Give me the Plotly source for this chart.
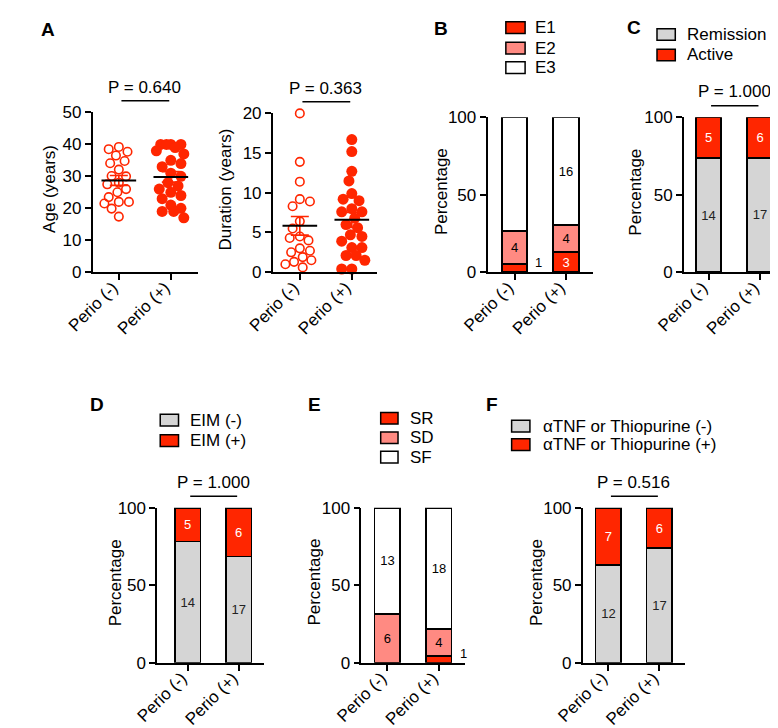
import numpy as np
import plotly.graph_objects as go

W, H = 778, 728
FONT = "Arial, Liberation Sans, sans-serif"
RED = "#ff2600"
PINK = "#ff8a82"
GREY = "#d5d5d5"
WHITE = "#ffffff"

groups = ["Perio (-)", "Perio (+)"]

# ---- Panel A data ----
age_neg = [39.2, 38.5, 37.7, 36.5, 34.8, 34.1, 32.1, 30.1, 30.0, 28.0, 27.5,
           26.0, 25.0, 23.5, 22.0, 22.0, 21.5, 19.9, 17.4]
age_pos = [40, 40, 40, 40, 39, 38, 37, 35, 34, 33, 31, 30, 28, 27, 26, 25,
           24, 23, 21, 20, 19, 19, 17]
dur_neg = [20.0, 13.9, 11.4, 9.2, 8.9, 8.3, 6.4, 5.5, 4.5, 4.3, 4.0, 3.0, 2.7,
           2.5, 1.9, 1.5, 1.3, 1.0, 0.6]
dur_pos = [16.7, 15.2, 12.7, 11.5, 9.9, 9.2, 9.0, 8.0, 7.6, 7.6, 6.8, 6.0, 5.6,
           4.7, 4.5, 3.9, 3.1, 3.1, 2.1, 2.1, 1.5, 0.4, 0.4]

# ---- Panel B ----
b_names = ["E1", "E2", "E3"]
b_pct = [[5.3, 13.0], [21.1, 17.4], [73.7, 69.6]]
b_lab = [["", "3"], ["4", "4"], ["14", "16"]]
b_out = ["1", ""]
# ---- Panel C ----
c_names = ["Remission", "Active"]
c_pct = [[73.7, 73.9], [26.3, 26.1]]
c_lab = [["14", "17"], ["5", "6"]]
# ---- Panel D ----
d_names = ["EIM (-)", "EIM (+)"]
d_pct = [[78.3, 68.7], [21.7, 31.3]]
d_lab = [["14", "17"], ["5", "6"]]
# ---- Panel E ----
e_names = ["SR", "SD", "SF"]
e_pct = [[0.0, 4.3], [31.6, 17.4], [68.4, 78.3]]
e_lab = [["", ""], ["6", "4"], ["13", "18"]]
e_out = ["", "1"]
# ---- Panel F ----
f_names = ["\u03b1TNF or Thiopurine (-)", "\u03b1TNF or Thiopurine (+)"]
f_pct = [[63.2, 73.9], [36.8, 26.1]]
f_lab = [["12", "17"], ["7", "6"]]

p_values = {"A1": "P = 0.640", "A2": "P = 0.363", "C": "P = 1.000",
            "D": "P = 1.000", "F": "P = 0.516"}

# ---- layout geometry in pixels ----
panels = {
    "A1": dict(l=58, r=167, c=(85, 139), t=98, b=262, ymax=50, dt=10, ytitle="Age (years)", tx=13),
    "A2": dict(l=245, r=353, c=(273, 327), t=99, b=262, ymax=20, dt=5, ytitle="Duration (years)", tx=196),
    "B": dict(l=468, r=578, c=(496, 549.5), t=103, b=262, ymax=100, dt=50, ytitle="Percentage", tx=421),
    "C": dict(l=672, r=777, c=(697.5, 751), t=103, b=262, ymax=100, dt=50, ytitle="Percentage", tx=622),
    "D": dict(l=125, r=236, c=(156.5, 209.5), t=504, b=663, ymax=100, dt=50, ytitle="Percentage", tx=81),
    "E": dict(l=337, r=445, c=(364, 417.5), t=504, b=663, ymax=100, dt=50, ytitle="Percentage", tx=288),
    "F": dict(l=567, r=673, c=(593.5, 646.5), t=504, b=663, ymax=100, dt=50, ytitle="Percentage", tx=519),
}

fig = go.Figure()
layout = dict(width=W, height=H, margin=dict(l=0, r=0, t=0, b=0),
              paper_bgcolor="white", plot_bgcolor="white", showlegend=False,
              font=dict(family=FONT, color="black"))
annotations = []
shapes = []

for i, (key, p) in enumerate(panels.items(), start=1):
    sp = p["c"][1] - p["c"][0]
    p["sp"] = sp
    p["xr"] = [(p["l"] - p["c"][0]) / sp, (p["r"] - p["c"][0]) / sp]
    p["xa"] = "x" if i == 1 else f"x{i}"
    p["ya"] = "y" if i == 1 else f"y{i}"
    xk = "xaxis" if i == 1 else f"xaxis{i}"
    yk = "yaxis" if i == 1 else f"yaxis{i}"
    layout[xk] = dict(domain=[p["l"] / W, p["r"] / W], range=p["xr"], anchor=p["ya"],
                      showline=True, linecolor="black", linewidth=1.8,
                      ticks="outside", ticklen=6, tickwidth=1.8, tickcolor="black",
                      tickvals=[0, 1], ticktext=groups, tickangle=-45,
                      ticklabelstandoff=-9, ticklabelshift=-6,
                      tickfont=dict(size=17, family=FONT, color="black"),
                      showgrid=False, zeroline=False, fixedrange=True)
    layout[yk] = dict(domain=[1 - p["b"] / H, 1 - p["t"] / H], range=[0, p["ymax"]],
                      anchor=p["xa"], showline=True, linecolor="black", linewidth=1.8,
                      ticks="outside", ticklen=6, tickwidth=1.8, tickcolor="black",
                      tickmode="linear", tick0=0, dtick=p["dt"],
                      tickfont=dict(size=17, family=FONT, color="black"),
                      showgrid=False, zeroline=False, fixedrange=True)
    annotations.append(dict(xref="paper", yref="paper", x=p["tx"] / W,
                            y=1 - ((p["t"] + p["b"]) / 2 - 3) / H,
                            text=p["ytitle"], textangle=-90, showarrow=False,
                            font=dict(size=17, family=FONT, color="black"),
                            xanchor="center", yanchor="middle"))
    if key in p_values:
        shapes.append(dict(type="line", xref=p["xa"], yref="paper", x0=0.05, x1=0.97,
                           y0=1 - (p["t"] - 12) / H, y1=1 - (p["t"] - 12) / H,
                           line=dict(color="black", width=1.5)))
        annotations.append(dict(xref=p["xa"], yref="paper", x=0.5,
                                y=1 - (p["t"] - 26) / H, text=p_values[key],
                                showarrow=False, xanchor="center", yanchor="middle",
                                font=dict(size=17, family=FONT, color="black")))


def swarm(vals, ppu_y, ppu_x, d, maxoff):
    order = sorted(range(len(vals)), key=lambda k: -vals[k])
    placed = []
    offs = [0.0] * len(vals)
    for n, k in enumerate(order):
        sgn = 1 if n % 2 == 0 else -1
        cands = [0.0]
        s = 1.5
        while s <= maxoff:
            cands += [sgn * s, -sgn * s]
            s += 1.5
        y = vals[k] * ppu_y
        best = None
        for c in cands:
            if all((c - px) ** 2 + (y - py) ** 2 >= d * d for px, py in placed):
                best = c
                break
        if best is None:
            best = max(cands, key=lambda c: min((c - px) ** 2 + (y - py) ** 2 for px, py in placed))
        placed.append((best, y))
        offs[k] = best / ppu_x
    return offs


# ---- Panel A scatter plots ----
for key, neg, pos in [("A1", age_neg, age_pos), ("A2", dur_neg, dur_pos)]:
    p = panels[key]
    ppu_y = (p["b"] - p["t"]) / p["ymax"]
    for g, vals, filled in [(0, neg, False), (1, pos, True)]:
        offs = swarm(vals, ppu_y, p["sp"], 10 if filled else 9.5, 16)
        xs = [g + o for o in offs]
        if filled:
            mk = dict(symbol="circle", size=11, color=RED, line=dict(width=0))
        else:
            mk = dict(symbol="circle-open", size=8.5, color=RED, line=dict(width=1.6, color=RED))
        fig.add_trace(go.Scatter(x=xs, y=vals, mode="markers", marker=mk,
                                 xaxis=p["xa"], yaxis=p["ya"], cliponaxis=False,
                                 hoverinfo="y"))
        m = float(np.mean(vals))
        sem = float(np.std(vals, ddof=1) / np.sqrt(len(vals)))
        fig.add_trace(go.Scatter(x=[g], y=[m], mode="markers",
                                 marker=dict(size=1, color="rgba(0,0,0,0)"),
                                 error_y=dict(type="data", array=[sem], color=RED,
                                              thickness=1.6, width=9),
                                 xaxis=p["xa"], yaxis=p["ya"], cliponaxis=False))
        hw = 18 / p["sp"]
        fig.add_trace(go.Scatter(x=[g - hw, g + hw], y=[m, m], mode="lines",
                                 line=dict(color="black", width=2),
                                 xaxis=p["xa"], yaxis=p["ya"], cliponaxis=False))

# ---- Stacked bar panels ----
bar_panels = [
    ("B", b_names, b_pct, b_lab, [RED, PINK, WHITE], ["white", "black", "black"], b_out, 0,
     dict(box=(487, 507), tx=515, rows=[11, 32, 52])),
    ("C", c_names, c_pct, c_lab, [GREY, RED], ["#222", "white"], None, None,
     dict(box=(644, 663), tx=673, rows=[18, 39])),
    ("D", d_names, d_pct, d_lab, [GREY, RED], ["#222", "white"], None, None,
     dict(box=(128, 147), tx=157, rows=[414, 435])),
    ("E", e_names, e_pct, e_lab, [RED, PINK, WHITE], ["white", "black", "black"], e_out, 0,
     dict(box=(357, 375), tx=385, rows=[412, 432, 452])),
    ("F", f_names, f_pct, f_lab, [GREY, RED], ["#222", "white"], None, None,
     dict(box=(493, 512), tx=523, rows=[420, 439])),
]

for key, names, pcts, labs, cols, tcols, outs, out_series, leg in bar_panels:
    p = panels[key]
    bw = 26.5 / p["sp"]
    for s, name in enumerate(names):
        fig.add_trace(go.Bar(x=[0, 1], y=pcts[s], name=name, width=bw,
                             marker=dict(color=cols[s], line=dict(color="black", width=1.6)),
                             text=labs[s], textposition="inside", insidetextanchor="middle",
                             textangle=0, constraintext="none",
                             textfont=dict(size=13, family=FONT, color=tcols[s]),
                             xaxis=p["xa"], yaxis=p["ya"], cliponaxis=False))
        # legend entry
        y = leg["rows"][s]
        shapes.append(dict(type="rect", xref="paper", yref="paper",
                           x0=leg["box"][0] / W, x1=leg["box"][1] / W,
                           y0=1 - (y + 6) / H, y1=1 - (y - 6) / H,
                           fillcolor=cols[s], line=dict(color="black", width=1.5)))
        annotations.append(dict(xref="paper", yref="paper", x=leg["tx"] / W, y=1 - y / H,
                                text=name, showarrow=False, xanchor="left", yanchor="middle",
                                font=dict(size=17, family=FONT, color="black")))
    if outs:
        for g, t in enumerate(outs):
            if t:
                annotations.append(dict(xref=p["xa"], yref=p["ya"], x=g + bw / 2,
                                        y=pcts[out_series][g] / 2, text=t, showarrow=False,
                                        xanchor="left", yanchor="middle", xshift=6, yshift=6,
                                        font=dict(size=13, family=FONT, color="black")))

layout["barmode"] = "stack"

# ---- panel letters ----
letters = [("A", 11, 13), ("B", 420, 12), ("C", 620, 11), ("D", 62, 398),
           ("E", 288, 398), ("F", 473, 398)]
for t, x, y in letters:
    annotations.append(dict(xref="paper", yref="paper", x=x / W, y=1 - y / H,
                            text=f"<b>{t}</b>", showarrow=False, xanchor="center",
                            yanchor="middle", font=dict(size=19, family=FONT, color="black")))

layout["annotations"] = annotations
layout["shapes"] = shapes
fig.update_layout(**layout)
fig.write_html("out.html")
